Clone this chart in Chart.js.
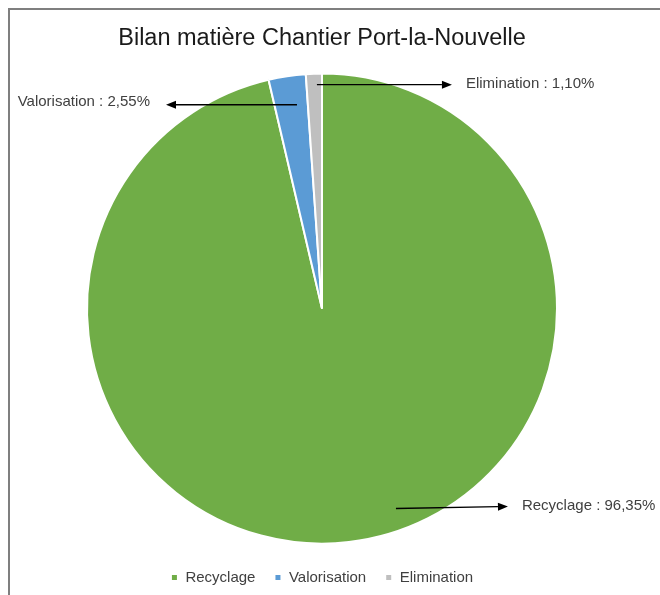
<!DOCTYPE html>
<html>
<head>
<meta charset="utf-8">
<script src="https://cdn.jsdelivr.net/npm/chart.js@4.4.0/dist/chart.umd.min.js"></script>
<style>
    html, body { margin: 0; padding: 0; background: #fff; }
    .wrap { position: relative; width: 660px; height: 595px; }
    .frame {
        position: absolute; left: 8px; top: 8px; right: 0; bottom: 0;
        border-top: 2px solid #7f7f7f; border-left: 2px solid #7f7f7f;
    }
    canvas { position: absolute; left: 0; top: 0; }
</style>
</head>
<body>
<div class="wrap">
    <div class="frame"></div>
    <canvas id="pieChart" width="660" height="595"></canvas>
</div>
<script>
const categories = ['Recyclage', 'Valorisation', 'Elimination'];
const shares = [96.35, 2.55, 1.10];
const sliceColors = ['#70ad47', '#5b9bd5', '#bfbfbf'];
const labelTexts = ['Recyclage : 96,35%', 'Valorisation : 2,55%', 'Elimination : 1,10%'];

// leader arrows, placed the way Excel left them (angle from top, clockwise)
const callouts = [
    { angle: 159.7, radius: 0.907, dx: 112, dy: -2, side: 'right' },
    { angle: 353.0, radius: 0.874, dx: -131, dy: 0, side: 'left' },
    { angle: 358.7, radius: 0.953, dx: 135, dy: 0, side: 'right' }
];

const FONT = '"Liberation Sans", Arial, sans-serif';

const calloutPlugin = {
    id: 'callouts',
    afterDraw(chart) {
        const arc = chart.getDatasetMeta(0).data[0];
        if (!arc) return;
        const ctx = chart.ctx;
        const cx = arc.x, cy = arc.y, r = arc.outerRadius;
        ctx.save();
        callouts.forEach((c, i) => {
            const a = c.angle * Math.PI / 180;
            const x0 = cx + Math.sin(a) * r * c.radius;
            const y0 = cy - Math.cos(a) * r * c.radius;
            const x1 = x0 + c.dx, y1 = y0 + c.dy;
            const dir = Math.atan2(y1 - y0, x1 - x0);
            const head = 10, half = 4;
            const bx = x1 - Math.cos(dir) * head, by = y1 - Math.sin(dir) * head;

            ctx.strokeStyle = '#000';
            ctx.lineWidth = 1.3;
            ctx.beginPath();
            ctx.moveTo(x0, y0);
            ctx.lineTo(bx, by);
            ctx.stroke();

            ctx.fillStyle = '#000';
            ctx.beginPath();
            ctx.moveTo(x1, y1);
            ctx.lineTo(bx - Math.sin(dir) * half, by + Math.cos(dir) * half);
            ctx.lineTo(bx + Math.sin(dir) * half, by - Math.cos(dir) * half);
            ctx.closePath();
            ctx.fill();

            ctx.fillStyle = '#404040';
            ctx.font = '15px ' + FONT;
            ctx.textBaseline = 'middle';
            if (c.side === 'right') {
                ctx.textAlign = 'left';
                ctx.fillText(labelTexts[i], x1 + 14, y1 - 1);
            } else {
                ctx.textAlign = 'right';
                ctx.fillText(labelTexts[i], x1 - 16, y1 - 3);
            }
        });
        ctx.restore();
    }
};

new Chart(document.getElementById('pieChart'), {
    type: 'pie',
    data: {
        labels: categories,
        datasets: [{
            data: shares,
            backgroundColor: sliceColors,
            borderColor: '#ffffff',
            borderWidth: 2
        }]
    },
    options: {
        responsive: false,
        animation: false,
        radius: 235,
        layout: { padding: { left: 0, right: 16, top: 0, bottom: 4 } },
        plugins: {
            title: {
                display: true,
                text: 'Bilan matière Chantier Port-la-Nouvelle',
                color: '#1a1a1a',
                font: { family: FONT, size: 23.5, weight: 'normal' },
                padding: { top: 24, bottom: 14 }
            },
            legend: {
                position: 'bottom',
                maxHeight: 40,
                labels: {
                    usePointStyle: true,
                    pointStyle: 'rect',
                    boxWidth: 7,
                    boxHeight: 7,
                    padding: 19,
                    color: '#404040',
                    font: { family: FONT, size: 15 }
                }
            },
            tooltip: { enabled: false }
        }
    },
    plugins: [calloutPlugin]
});
</script>
</body>
</html>
